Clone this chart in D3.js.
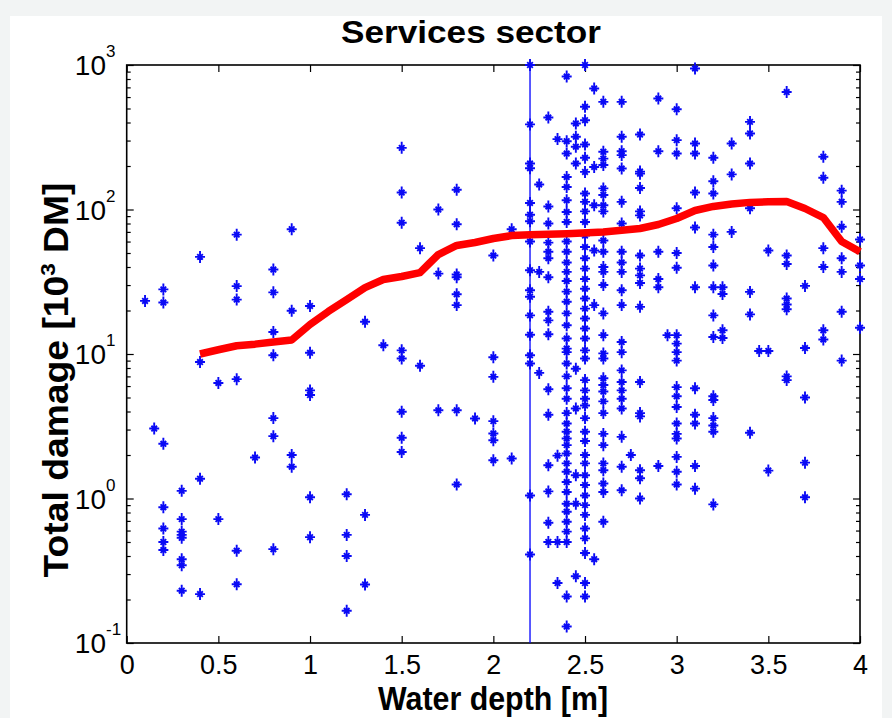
<!DOCTYPE html>
<html>
<head>
<meta charset="utf-8">
<script src="https://cdn.jsdelivr.net/npm/d3@7/dist/d3.min.js"></script>
<style>
  html, body { margin: 0; padding: 0; background: #f2f4f4; }
  svg { display: block; }
  text { font-family: "Liberation Sans", Arial, Helvetica, sans-serif; fill: #000; }
</style>
</head>
<body>
<svg id="chart" width="892" height="718"></svg>
<script>
// ---------------- data ----------------
const chartTitle = "Services sector";
const xLabel = "Water depth [m]";
const yLabelMain = "Total damage [10";
const yLabelSup = "3";
const yLabelEnd = " DM]";

const xTicks = [0, 0.5, 1, 1.5, 2, 2.5, 3, 3.5, 4];
const xTickLabels = ["0", "0.5", "1", "1.5", "2", "2.5", "3", "3.5", "4"];
const yMajorTicks = [0.1, 1, 10, 100, 1000];
const yTickExponents = ["-1", "0", "1", "2", "3"];

const markerLineDepth = 2.2;

// scatter: observation depths (columns) and damages at each depth
const columnDepths = [0.1, 0.15, 0.2, 0.3, 0.4, 0.5, 0.6, 0.7, 0.8, 0.9, 1.0, 1.2, 1.3, 1.4, 1.5, 1.6, 1.7, 1.8, 1.9, 2.0, 2.1, 2.2, 2.25, 2.3, 2.35, 2.4, 2.45, 2.5, 2.55, 2.6, 2.7, 2.75, 2.8, 2.9, 2.95, 3.0, 3.1, 3.2, 3.25, 3.3, 3.4, 3.45, 3.5, 3.6, 3.7, 3.8, 3.9, 4.0];
const columnDamages = [
  [23.3],
  [3.05],
  [28, 22.7, 2.39, 0.87, 0.62, 0.50, 0.44],
  [1.13, 0.72, 0.59, 0.56, 0.535, 0.38, 0.345, 0.23],
  [47, 8.8, 1.37, 0.218],
  [6.3, 0.72],
  [67, 29.5, 23.8, 6.7, 0.435, 0.255],
  [1.92],
  [38.4, 26.7, 14.2, 9.8, 3.6, 2.7, 0.446],
  [73, 19.9, 2.0, 1.66],
  [21.5, 10.2, 5.6, 5.2, 1.02, 0.54],
  [1.07, 0.56, 0.40, 0.167],
  [16.7, 0.77, 0.254],
  [11.5],
  [267, 131, 81, 10.6, 9.3, 3.98, 2.63, 2.1],
  [54, 8.3],
  [100, 36, 4.08],
  [137, 79, 35.5, 34, 25.9, 21.8, 4.08, 1.25],
  [3.58],
  [48, 9.5, 6.95, 3.43, 2.82, 2.53, 1.84],
  [73, 1.89],
  [1000, 388, 208, 193, 111, 92, 83, 60, 38, 27.6, 24.9, 18.5, 13.6, 9.8, 8.6, 1.05, 0.41],
  [149, 37, 7.4],
  [433, 105, 80, 59, 51, 46, 34, 19.6, 17.1, 13.7, 5.7, 3.8, 1.7, 1.12, 0.68, 0.50],
  [307, 1.98, 0.50, 0.26],
  [832, 297, 244, 168, 143, 116, 96, 82, 60, 51, 43, 37, 32, 27, 23, 19.1, 15.8, 12.8, 10.9, 10.3, 8.6, 7.0, 5.8, 4.9, 3.9, 3.3, 2.9, 2.6, 2.34, 2.05, 1.75, 1.53, 1.30, 1.11, 0.92, 0.81, 0.69, 0.59, 0.50, 0.21, 0.13],
  [394, 319, 272, 208, 7.9, 4.2, 1.45, 0.92, 0.29],
  [1000, 514, 415, 282, 228, 182, 129, 113, 97, 82, 66, 55, 46, 39, 33, 28.3, 24.2, 20.6, 17.6, 15, 12.8, 10.6, 9.3, 6.6, 5.6, 4.9, 4.4, 3.6, 2.9, 2.5, 2.0, 1.75, 1.45, 1.24, 1.05, 0.90, 0.77, 0.62, 0.53, 0.42, 0.26, 0.21],
  [688, 197, 107, 52, 21.8, 0.38],
  [556, 251, 225, 203, 140, 126, 107, 97, 61, 51, 40, 37, 30, 19.1, 13.5, 10.1, 9.3, 6.8, 6.1, 5.5, 4.7, 3.9, 2.8, 2.34, 1.75, 1.57, 1.27, 1.11, 0.69],
  [556, 319, 253, 238, 192, 113, 80, 51, 43, 37, 27.6, 21.8, 12.1, 10.3, 7.7, 6.4, 5.6, 4.9, 4.2, 2.67, 1.66, 1.14],
  [2.0],
  [330, 183, 177, 141, 97, 91, 48, 39, 35, 31, 21.2, 6.4, 3.9, 3.7, 1.57, 1.38, 1.0],
  [586, 253, 51, 33, 29, 1.68],
  [13.5],
  [494, 302, 244, 102, 50, 39.5, 13.5, 11.8, 10.3, 9.0, 5.9, 5.1, 4.3, 3.3, 2.8, 2.6, 1.94, 1.53, 1.25],
  [946, 286, 244, 131, 75, 29, 5.8, 3.8, 3.3, 1.68, 1.17],
  [228, 157, 129, 67, 55, 41, 29, 18.5, 13.1, 5.1, 4.8, 3.6, 3.2, 2.9, 0.91],
  [29, 26, 14.6, 12.9],
  [286, 175, 70],
  [404, 336, 208, 102, 26.9, 18.8, 2.85],
  [10.5],
  [52, 10.5, 1.56],
  [650, 48, 42, 24.2, 22, 20.4, 7.0, 6.6],
  [29.6, 11.0, 5.0, 1.77, 1.02],
  [232, 166, 54, 40, 14.6, 12.6],
  [135, 113, 76, 46, 37, 19.6, 9.0],
  [62, 41, 33, 15.2]
];

// mean damage curve (red)
const curveDepths  = [0.4, 0.5, 0.6, 0.7, 0.8, 0.9, 1.0, 1.1, 1.2, 1.3, 1.4, 1.5, 1.6, 1.65, 1.7, 1.8, 1.9, 2.0, 2.1, 2.2, 2.4, 2.6, 2.8, 2.9, 3.0, 3.1, 3.2, 3.3, 3.4, 3.5, 3.6, 3.7, 3.8, 3.9, 4.0];
const curveDamages = [10.0, 10.7, 11.4, 11.7, 12.1, 12.5, 16.0, 19.7, 23.8, 28.8, 32.8, 34.4, 36.6, 42.3, 48.8, 56.4, 59.1, 63, 66, 67, 68, 69.9, 73.9, 78.7, 86.7, 98.4, 105, 109, 112, 113, 113.6, 101.6, 88, 60, 51];

// ---------------- layout ----------------
const svg = d3.select("#chart");
const plot = { left: 126.7, right: 860, top: 65, bottom: 643 };

svg.append("rect").attr("x", 10).attr("y", 16).attr("width", 872).attr("height", 702).attr("fill", "#ffffff");

const x = d3.scaleLinear().domain([0, 4]).range([plot.left, plot.right]);
const y = d3.scaleLog().domain([0.1, 1000]).range([plot.bottom, plot.top]);

const yMinorTicks = [];
yMajorTicks.slice(0, -1).forEach(d => { for (let k = 2; k <= 9; k++) yMinorTicks.push(d * k); });

const font = '"Liberation Sans", Arial, Helvetica, sans-serif';

function styleAxis(g) {
  g.select(".domain").remove();
  g.selectAll(".tick line").attr("stroke", "#000").attr("stroke-width", 1.2);
}

// bottom axis with labels
const gx = svg.append("g").attr("transform", `translate(0,${plot.bottom})`)
  .call(d3.axisBottom(x).tickValues(xTicks).tickSize(-7).tickSizeOuter(0).tickPadding(12)
    .tickFormat((d, i) => xTickLabels[i]));
styleAxis(gx);
gx.selectAll(".tick text").attr("font-size", 27).attr("font-family", font).attr("fill", "#000");

// top axis (ticks only)
const gxt = svg.append("g").attr("transform", `translate(0,${plot.top})`)
  .call(d3.axisTop(x).tickValues(xTicks).tickSize(-7).tickSizeOuter(0).tickFormat(""));
styleAxis(gxt);

// left/right major and minor ticks
[["L", plot.left], ["R", plot.right]].forEach(([side, px]) => {
  const mk = side === "L" ? d3.axisLeft : d3.axisRight;
  const gMaj = svg.append("g").attr("transform", `translate(${px},0)`)
    .call(mk(y).tickValues(yMajorTicks).tickSize(-7).tickSizeOuter(0).tickFormat(""));
  styleAxis(gMaj);
  const gMin = svg.append("g").attr("transform", `translate(${px},0)`)
    .call(mk(y).tickValues(yMinorTicks).tickSize(-4).tickSizeOuter(0).tickFormat(""));
  styleAxis(gMin);
});

// y tick labels: 10^n
const yl = svg.append("g");
yMajorTicks.forEach((d, i) => {
  yl.append("text").attr("x", 106).attr("y", y(d) + 10)
    .attr("text-anchor", "end").attr("font-size", 28).text("10");
  yl.append("text").attr("x", 106).attr("y", y(d) - 8)
    .attr("text-anchor", "start").attr("font-size", 17).text(yTickExponents[i]);
});

// plot frame
svg.append("rect").attr("x", plot.left).attr("y", plot.top)
  .attr("width", plot.right - plot.left).attr("height", plot.bottom - plot.top)
  .attr("fill", "none").attr("stroke", "#000").attr("stroke-width", 1.6);

// vertical marker line
svg.append("line")
  .attr("x1", x(markerLineDepth)).attr("x2", x(markerLineDepth))
  .attr("y1", y(1000)).attr("y2", y(0.1))
  .attr("stroke", "#0000ff").attr("stroke-width", 1.3);

// scatter points
const points = [];
columnDepths.forEach((dep, i) => columnDamages[i].forEach(v => points.push([dep, v])));
const star = "M0,-6V6M-5,0H5M-2.8,-2.8L2.8,2.8M-2.8,2.8L2.8,-2.8";
svg.append("g").selectAll("path").data(points).join("path")
  .attr("transform", d => `translate(${x(d[0])},${y(d[1])})`)
  .attr("d", star)
  .attr("fill", "none").attr("stroke", "#0a0af5").attr("stroke-width", 1.9);

// red curve
const line = d3.line().x((d, i) => x(curveDepths[i])).y((d) => y(d));
svg.append("path").datum(curveDamages)
  .attr("d", line)
  .attr("fill", "none").attr("stroke", "#ff0000").attr("stroke-width", 7.5)
  .attr("stroke-linejoin", "round");

// title
svg.append("text").attr("x", 471).attr("y", 43).attr("text-anchor", "middle")
  .attr("font-size", 31).attr("font-weight", "bold")
  .attr("textLength", 260).attr("lengthAdjust", "spacingAndGlyphs")
  .text(chartTitle);

// x label
svg.append("text").attr("x", 493).attr("y", 710).attr("text-anchor", "middle")
  .attr("font-size", 33).attr("font-weight", "bold")
  .attr("textLength", 230).attr("lengthAdjust", "spacingAndGlyphs")
  .text(xLabel);

// y label
const ylab = svg.append("text")
  .attr("transform", `translate(68,380) rotate(-90)`)
  .attr("text-anchor", "middle").attr("font-size", 35).attr("font-weight", "bold")
  .attr("textLength", 395).attr("lengthAdjust", "spacingAndGlyphs");
ylab.append("tspan").text(yLabelMain);
ylab.append("tspan").attr("font-size", 21).attr("dy", -13).text(yLabelSup);
ylab.append("tspan").attr("dy", 13).text(yLabelEnd);
</script>
</body>
</html>
